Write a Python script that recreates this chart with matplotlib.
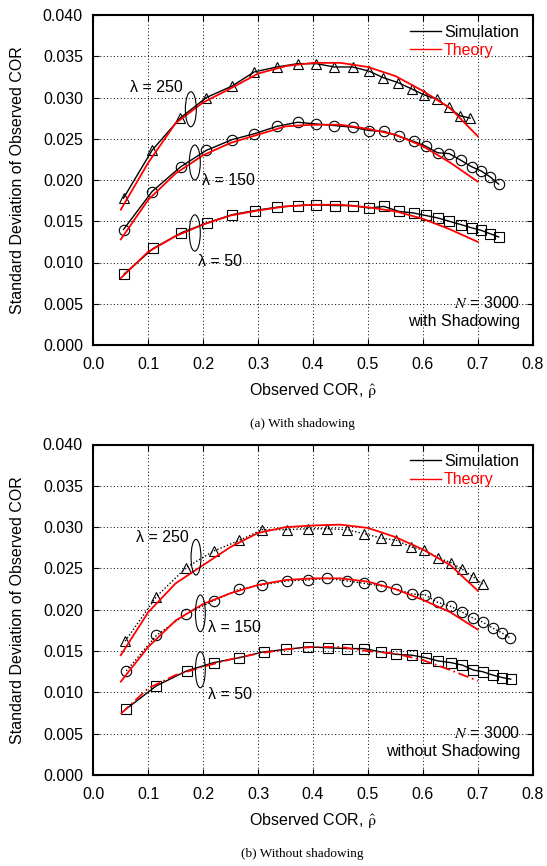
import matplotlib
matplotlib.use("Agg")
import matplotlib.pyplot as plt
from matplotlib.patches import Ellipse
from matplotlib.lines import Line2D

plt.rcParams['font.family'] = ['Liberation Sans', 'DejaVu Sans']
plt.rcParams['mathtext.fontset'] = 'stix'

# ---------------- data: (a) with shadowing ----------------
a_sim250_x = [0.055, 0.107, 0.158, 0.206, 0.253, 0.293, 0.334, 0.372, 0.406, 0.439, 0.472, 0.502,
              0.528, 0.555, 0.581, 0.603, 0.625, 0.647, 0.667, 0.686]
a_sim250_y = [0.0178, 0.0236, 0.0275, 0.0300, 0.0314, 0.0331, 0.0337, 0.0341, 0.0341, 0.0337, 0.0337, 0.0332,
              0.0324, 0.0318, 0.0310, 0.0303, 0.0298, 0.0288, 0.0278, 0.0275]
a_sim150_x = [0.055, 0.107, 0.159, 0.206, 0.253, 0.293, 0.334, 0.372, 0.405, 0.439, 0.472, 0.502,
              0.529, 0.556, 0.583, 0.605, 0.627, 0.648, 0.669, 0.689, 0.706, 0.722, 0.738]
a_sim150_y = [0.0140, 0.0186, 0.0216, 0.0236, 0.0249, 0.0256, 0.0265, 0.0270, 0.0268, 0.0266, 0.0264, 0.0260,
              0.0259, 0.0253, 0.0247, 0.0241, 0.0233, 0.0232, 0.0224, 0.0216, 0.0211, 0.0204, 0.0195]
a_sim50_x = [0.056, 0.109, 0.160, 0.207, 0.253, 0.294, 0.334, 0.372, 0.406, 0.440, 0.472, 0.502,
             0.529, 0.556, 0.583, 0.605, 0.627, 0.648, 0.669, 0.689, 0.706, 0.722, 0.738]
a_sim50_y = [0.0086, 0.0117, 0.0136, 0.0148, 0.0158, 0.0163, 0.0167, 0.0169, 0.0170, 0.0169, 0.0169, 0.0166,
             0.0168, 0.0162, 0.0160, 0.0157, 0.0154, 0.0150, 0.0146, 0.0142, 0.0139, 0.0135, 0.0131]

theory_x = [0.05, 0.1, 0.15, 0.2, 0.25, 0.3, 0.35, 0.4, 0.45, 0.5, 0.55, 0.6, 0.65, 0.7]
a_th250 = [0.0164, 0.0221, 0.0269, 0.0294, 0.0311, 0.0329, 0.0338, 0.0342, 0.0342, 0.0337, 0.0326, 0.0308, 0.0287, 0.0253]
a_th150 = [0.0128, 0.0176, 0.0208, 0.0230, 0.0245, 0.0255, 0.0265, 0.0267, 0.0267, 0.0262, 0.0255, 0.0241, 0.0221, 0.0198]
a_th50 = [0.0081, 0.0113, 0.0132, 0.0146, 0.0157, 0.0163, 0.0168, 0.0170, 0.0170, 0.0167, 0.0162, 0.0153, 0.0140, 0.0125]

# ---------------- data: (b) without shadowing ----------------
b_sim250_x = [0.058, 0.115, 0.169, 0.219, 0.266, 0.308, 0.352, 0.390, 0.426, 0.461, 0.493, 0.523,
              0.552, 0.579, 0.603, 0.627, 0.651, 0.672, 0.691, 0.709]
b_sim250_y = [0.0162, 0.0216, 0.0251, 0.0271, 0.0284, 0.0297, 0.0297, 0.0298, 0.0298, 0.0297, 0.0292, 0.0287,
              0.0284, 0.0276, 0.0272, 0.0263, 0.0257, 0.0249, 0.0240, 0.0231]
b_sim150_x = [0.060, 0.115, 0.169, 0.219, 0.266, 0.308, 0.352, 0.390, 0.426, 0.461, 0.493, 0.523,
              0.552, 0.580, 0.604, 0.627, 0.651, 0.672, 0.691, 0.709, 0.727, 0.744, 0.759]
b_sim150_y = [0.0126, 0.0169, 0.0195, 0.0211, 0.0225, 0.0230, 0.0235, 0.0236, 0.0238, 0.0235, 0.0232, 0.0229,
              0.0225, 0.0219, 0.0218, 0.0209, 0.0204, 0.0197, 0.0190, 0.0185, 0.0178, 0.0172, 0.0166]
b_sim50_x = [0.060, 0.115, 0.170, 0.219, 0.266, 0.310, 0.351, 0.390, 0.427, 0.461, 0.493, 0.523,
             0.552, 0.580, 0.605, 0.628, 0.651, 0.672, 0.692, 0.709, 0.727, 0.744, 0.760]
b_sim50_y = [0.0080, 0.0108, 0.0126, 0.0136, 0.0142, 0.0149, 0.0152, 0.0155, 0.0154, 0.0153, 0.0153, 0.0149,
             0.0146, 0.0145, 0.0142, 0.0138, 0.0136, 0.0133, 0.0127, 0.0125, 0.0121, 0.0118, 0.0116]
b_th250 = [0.0145, 0.0197, 0.0232, 0.0254, 0.0276, 0.0293, 0.0300, 0.0302, 0.0303, 0.0299, 0.0288, 0.0273, 0.0254, 0.0223]
b_th150 = [0.0113, 0.0155, 0.0187, 0.0207, 0.0220, 0.0230, 0.0236, 0.0238, 0.0238, 0.0234, 0.0225, 0.0212, 0.0197, 0.0176]
b_th50 = [0.0074, 0.0105, 0.0121, 0.0131, 0.0140, 0.0147, 0.0152, 0.0155, 0.0155, 0.0150, 0.0147, 0.0139, 0.0127, 0.0114]

x_ticks = [0.0, 0.1, 0.2, 0.3, 0.4, 0.5, 0.6, 0.7, 0.8]
y_ticks = [0.000, 0.005, 0.010, 0.015, 0.020, 0.025, 0.030, 0.035, 0.040]
lambda_labels = ["λ = 250", "λ = 150", "λ = 50"]

FS = 11.5
W, H = 547, 866
fig = plt.figure(figsize=(W / 100, H / 100), dpi=100)

def axes_px(left, top, right, bottom):
    return fig.add_axes([left / W, 1 - bottom / H, (right - left) / W, (bottom - top) / H])

ax1 = axes_px(93.3, 15, 532.7, 345)
ax2 = axes_px(93.3, 444.5, 532.7, 775)

mk = dict(markerfacecolor='none', markeredgecolor='black', markeredgewidth=0.8, color='black')

def style(ax):
    ax.set_xlim(0, 0.8)
    ax.set_ylim(0, 0.04)
    ax.set_xticks(x_ticks)
    ax.set_yticks(y_ticks)
    ax.set_xticklabels([f"{v:.1f}" for v in x_ticks])
    ax.set_yticklabels([f"{v:.3f}" for v in y_ticks])
    ax.tick_params(direction='in', top=True, right=True, length=4, width=0.8, labelsize=FS)
    ax.tick_params(axis='x', pad=8.5)
    ax.tick_params(axis='y', pad=7.5)
    ax.grid(True, linestyle=(0, (1, 2.5)), color='black', linewidth=0.7)
    for s in ax.spines.values():
        s.set_linewidth(1.5)
    ax.set_xlabel(r"Observed COR, $\hat{\mathrm{\rho}}$", fontsize=FS)
    ax.xaxis.set_label_coords(0.5, -0.11)
    ax.set_ylabel("Standard Deviation of Observed COR", fontsize=FS)
    ax.yaxis.set_label_coords(-0.155, 0.5)
    handles = [Line2D([], [], color='black', lw=1.0), Line2D([], [], color='red', lw=1.0)]
    leg = ax.legend(handles, ["Simulation", "Theory"], loc='upper right', frameon=False, fontsize=FS,
                    handlelength=2.0, handletextpad=0.15, labelspacing=0.2, borderaxespad=0.2,
                    bbox_to_anchor=(0.99, 1.0))
    leg.get_texts()[1].set_color('red')

# ---- panel (a)
ax = ax1
style(ax)
ax.plot(a_sim250_x, a_sim250_y, '-', marker='^', markersize=7, lw=1.0, **mk, zorder=3)
ax.plot(a_sim150_x, a_sim150_y, '-', marker='o', markersize=7.5, lw=1.0, **mk, zorder=3)
ax.plot(a_sim50_x, a_sim50_y, '-', marker='s', markersize=7.5, lw=1.0, **mk, zorder=3)
ax.plot(theory_x, a_th250, '-', color='red', lw=1.3, zorder=4)
ax.plot(theory_x, a_th150, '-', color='red', lw=1.3, zorder=4)
ax.plot(theory_x, a_th50, '-', color='red', lw=1.3, zorder=4)
for (cx, cy, h) in [(0.1776, 0.02858, 0.00424), (0.1848, 0.02212, 0.00424), (0.1848, 0.01358, 0.0044)]:
    ax.add_patch(Ellipse((cx, cy), 0.020, h, fill=False, edgecolor='black', lw=0.8, zorder=5))
for lab, (tx, ty) in zip(lambda_labels, [(0.1154, 0.0312), (0.2464, 0.0199), (0.2312, 0.0101)]):
    ax.text(tx, ty, lab, fontsize=FS, ha='center', va='center', zorder=6)
ax.text(0.971, 0.128, r"$\it{N}$ = 3000", transform=ax.transAxes, ha='right', va='center', fontsize=FS)
ax.text(0.971, 0.0706, "with Shadowing", transform=ax.transAxes, ha='right', va='center', fontsize=FS)

# ---- panel (b)
ax = ax2
style(ax)
ax.plot(b_sim250_x, b_sim250_y, linestyle=(0, (1, 1.5)), marker='^', markersize=7, lw=1.0, **mk, zorder=3)
ax.plot(b_sim150_x, b_sim150_y, linestyle=(0, (1, 1.5)), marker='o', markersize=7.5, lw=1.0, **mk, zorder=3)
ax.plot(b_sim50_x, b_sim50_y, '-', marker='s', markersize=7.5, lw=1.0, **mk, zorder=3)
ax.plot(theory_x, b_th250, '-', color='red', lw=1.3, zorder=4)
ax.plot(theory_x, b_th150, '-', color='red', lw=1.3, zorder=4)
ax.plot(theory_x, b_th50, linestyle=(0, (6, 2, 1, 2)), color='red', lw=1.3, zorder=4)
for (cx, cy, h) in [(0.187, 0.02636, 0.00432), (0.1949, 0.01957, 0.00444), (0.1949, 0.01274, 0.00436)]:
    ax.add_patch(Ellipse((cx, cy), 0.018, h, fill=False, edgecolor='black', lw=0.8, zorder=5))
for lab, (tx, ty) in zip(lambda_labels, [(0.126, 0.0288), (0.2574, 0.0178), (0.2489, 0.0098)]):
    ax.text(tx, ty, lab, fontsize=FS, ha='center', va='center', zorder=6)
ax.text(0.971, 0.126, r"$\it{N}$ = 3000", transform=ax.transAxes, ha='right', va='center', fontsize=FS)
ax.text(0.971, 0.0705, "without Shadowing", transform=ax.transAxes, ha='right', va='center', fontsize=FS)

fig.text(302 / W, 1 - 424 / H, "(a) With shadowing", ha='center', va='center',
         fontsize=9.5, family='Liberation Serif')
fig.text(302 / W, 1 - 854 / H, "(b) Without shadowing", ha='center', va='center',
         fontsize=9.5, family='Liberation Serif')

fig.savefig("out.png", dpi=100)
